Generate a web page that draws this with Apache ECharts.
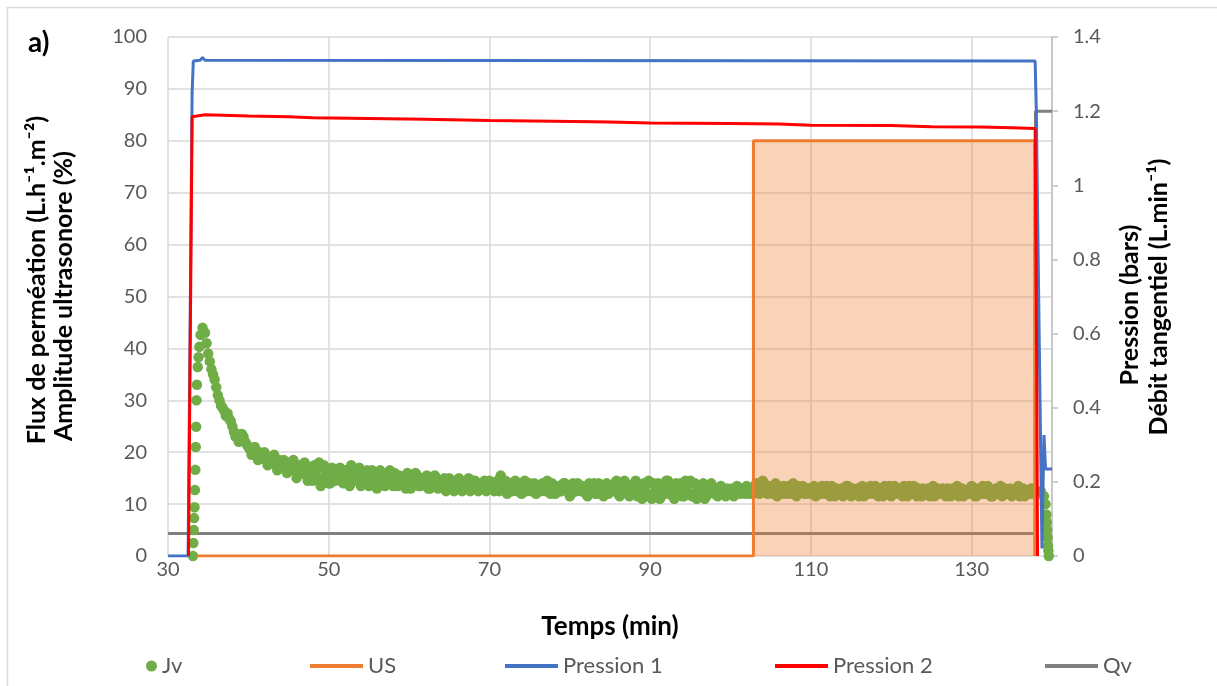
<!DOCTYPE html>
<html>
<head>
<meta charset="utf-8">
<script src="https://cdn.jsdelivr.net/npm/echarts@6/dist/echarts.min.js"></script>
<style>html,body{margin:0;padding:0;background:#fff;}#chart{width:1217px;height:686px;}</style>
</head>
<body>
<div id="chart"></div>
<script>
// ---- Data ----
// Jv (left axis, L.h-1.m-2): rise segment
const jvRiseT = [33.1, 33.15, 33.2, 33.25, 33.3, 33.35, 33.4, 33.45, 33.5, 33.55, 33.6, 33.7, 33.8, 33.9, 34.05, 34.3];
const jvRiseV = [0, 2.5, 5, 7.3, 9.4, 12.7, 16.6, 21, 24.9, 30, 33, 36.4, 38.3, 40.3, 42.6, 44];
// Jv main logging period, logger A: every 0.4 min starting at 34.6 min
const jvStartA = 34.6, jvStep = 0.4;
const jvMainA = [
  43, 39, 36, 34, 31, 29, 28, 27.5, 26, 24,
  23.5, 22.5, 23, 21.5, 20.5, 20.5, 19.5, 20, 19, 18.5,
  19, 18, 17.5, 18.5, 17, 17.5, 18, 16.5, 17.5, 16,
  17, 18, 14.5, 16, 17.5, 15, 13.5, 17.5, 15.5, 14,
  16.5, 15, 17, 14, 15.5, 13.5, 16, 15, 17, 14.5,
  15.5, 13.5, 16.5, 14, 15, 16, 13.5, 15.5, 14.5, 16,
  13.5, 15, 14, 16, 13, 14.5, 15.5, 13.5, 14, 15.5,
  13, 14.5, 15, 13.5, 14, 12.5, 15, 14, 13.5, 15,
  12.5, 14, 15, 13, 14.5, 12.5, 13.5, 14.5, 13, 14,
  12.5, 14.5, 15.5, 13, 12, 14, 13.5, 12.5, 14, 13,
  12.5, 14, 13, 12, 13.5, 14, 12.5, 13, 14, 12,
  13.5, 12.5, 14, 13, 12, 13.5, 14, 12.5, 13, 11.5,
  13.5, 14, 12, 13, 11.5, 14, 12.5, 13, 14.5, 11.5,
  13, 14, 11.5, 12.5, 14.5, 12, 11, 13.5, 14.5, 11,
  12.5, 14, 11.5, 12, 14.5, 13, 11, 12.5, 14, 11.5,
  13, 14.5, 12, 11, 13.5, 14, 11.5, 12.5, 13, 12,
  12.5, 13, 11.5, 12.5, 13, 12, 12.5, 13, 12, 12.5,
  13, 13.5, 12.5, 13, 14, 12, 13, 13.5, 11.5, 12.5,
  13.5, 12, 13, 14, 11.5, 12.5, 13.5, 12, 13, 12.5,
  11.5, 13, 13.5, 12, 12.5, 13.5, 11.5, 12.5, 13, 12,
  13.5, 11.5, 12.5, 13, 12, 11.5, 13, 13.5, 12, 12.5,
  13, 11.5, 12.5, 13.5, 12, 12.5, 13, 11.5, 12.5, 13.5,
  12, 12.5, 13, 11.5, 12.5, 13, 12, 11.5, 13, 12.5,
  12, 13, 11.5, 12.5, 13.5, 12, 11.5, 12.5, 13, 12,
  11.5, 12.5, 13.5, 12, 12.5, 11.5, 13, 12.5, 11.5, 13,
  12.5, 11.5, 12, 13.5, 12, 11.5, 12.5, 13, 12
];
// logger B: every 0.4 min starting at 34.8 min
const jvStartB = 34.8;
const jvMainB = [
  41, 37.5, 35, 32.5, 30, 28.5, 27, 26.5, 25, 23,
  22, 23.5, 22, 21, 19.5, 21, 18.5, 19.5, 20, 17.5,
  18, 19.5, 16.5, 17.5, 18.5, 16, 17, 18.5, 15, 17.5,
  16, 15.5, 17, 14.5, 16.5, 18, 15, 16, 14, 17,
  14.5, 16, 15, 16.5, 14, 17.5, 14.5, 16, 13.5, 15.5,
  16.5, 14.5, 15, 13, 16.5, 14.5, 15, 16.5, 13.5, 14.5,
  15.5, 14, 13, 15, 14.5, 16, 13.5, 15, 14, 13,
  14.5, 15.5, 13, 14, 15, 13.5, 14, 12.5, 14.5, 13.5,
  14, 13, 12.5, 14.5, 13.5, 14, 13, 12.5, 14.5, 13.5,
  13.5, 12.5, 14, 14.5, 13, 12.5, 14.5, 13.5, 12, 14.5,
  13.5, 12.5, 14, 13, 12.5, 13, 14.5, 12, 13.5, 13,
  12.5, 14, 13, 11.5, 14, 12.5, 13, 13.5, 12, 14,
  12.5, 12, 14, 13.5, 12.5, 12, 13.5, 14, 12, 13,
  14.5, 12, 13, 14, 11.5, 13, 14, 12, 11.5, 14,
  13.5, 11, 13, 14.5, 12, 11.5, 14, 13, 11.5, 14.5,
  12, 11.5, 14, 13, 12, 11, 13.5, 14, 12, 11.5,
  13.5, 12, 13, 12, 11.5, 13.5, 12, 12.5, 13.5, 12,
  12, 14, 12, 14.5, 12.5, 13.5, 12, 14, 13, 12,
  12.5, 13.5, 12, 12.5, 13.5, 13, 12, 13, 12, 13.5,
  13, 12, 12.5, 13.5, 11.5, 12.5, 13, 12.5, 11.5, 13.5,
  12, 13, 12, 11.5, 13.5, 12.5, 12, 12.5, 13.5, 11.5,
  12.5, 13.5, 12, 11.5, 13.5, 12, 12, 13.5, 11.5, 12.5,
  13.5, 11.5, 12.5, 13, 12, 11.5, 13.5, 12.5, 12, 13,
  11.5, 12.5, 13, 12, 11.5, 13, 12.5, 12, 13.5, 11.5,
  13, 12, 12, 13.5, 11.5, 12.5, 12, 13.5, 12, 12,
  13, 12, 12.5, 11.5, 13, 12.5, 12, 13
];
// Jv end segment
const jvFallT = [138.6, 139.0, 139.2, 139.3, 139.35, 139.4, 139.45, 139.5, 139.55, 139.6];
const jvFallV = [12.5, 11.5, 10, 8, 6.5, 5, 3.5, 2, 1, 0];

// US amplitude (left axis, %)
const usT = [33.7, 102.85, 102.85, 137.85, 137.85];
const usV = [0, 0, 80, 80, 0];

// Pression 1 (right axis, bars)
const p1T = [30, 32.5, 33.0, 33.15, 34.0, 34.3, 34.6, 137.9, 138.05, 138.4, 138.75, 138.9, 139.0, 139.2, 140];
const p1V = [0, 0, 1.25, 1.335, 1.337, 1.345, 1.337, 1.335, 1.2, 0.6, 0.02, 0.02, 0.326, 0.235, 0.235];

// Pression 2 (right axis, bars)
const p2T = [32.55, 33.0, 34.6, 40, 45, 48, 55, 62, 70, 78, 85, 90, 100, 106, 110, 120, 125, 131, 135, 137.9, 138.1, 138.2];
const p2V = [0, 1.185, 1.19, 1.187, 1.185, 1.182, 1.18, 1.178, 1.175, 1.173, 1.171, 1.168, 1.167, 1.165, 1.162, 1.161, 1.158, 1.157, 1.155, 1.153, 0.5, 0];

// Qv (right axis, L.min-1)
const qvT = [30, 137.95, 137.95, 140];
const qvV = [0.061, 0.061, 1.2, 1.2];

// axis ticks
const xTicks = {min: 30, max: 140, interval: 20};
const yLeftTicks = {min: 0, max: 100, interval: 10};
const yRightTicks = {min: 0, max: 1.4, interval: 0.2};

// ---- build ----
const zip = (t, v) => t.map((x, i) => [x, v[i]]);
const jvData = zip(jvRiseT, jvRiseV)
  .concat(jvMainA.map((v, i) => [+(jvStartA + i * jvStep).toFixed(2), v]))
  .concat(jvMainB.map((v, i) => [+(jvStartB + i * jvStep).toFixed(2), v]))
  .concat(zip(jvFallT, jvFallV));

const FONT = "Lato, 'DejaVu Sans', sans-serif";
const chart = echarts.init(document.getElementById('chart'), null, {renderer: 'canvas'});
const legendText = {color: '#595959', fontSize: 22, fontFamily: FONT};
const lineLegend = (name, left) => ({
  data: [name], left: left, top: 650, icon: 'rect', itemWidth: 53, itemHeight: 4,
  textStyle: legendText, selectedMode: false
});
const titleStyle = (text, size) => ({text: text, fontSize: size, fontWeight: 'bold', fontFamily: FONT, fill: '#000', align: 'center', verticalAlign: 'middle'});

chart.setOption({
  animation: false,
  backgroundColor: '#ffffff',
  grid: {left: 168, right: 165, top: 37, bottom: 130, containLabel: false},
  xAxis: {
    type: 'value', min: xTicks.min, max: xTicks.max, interval: xTicks.interval,
    axisLine: {show: false}, axisTick: {show: false},
    axisLabel: {color: '#595959', fontSize: 20, fontFamily: FONT, margin: 4, showMaxLabel: false},
    splitLine: {show: true, lineStyle: {color: '#D9D9D9', width: 1.5}}
  },
  yAxis: [
    {
      type: 'value', min: yLeftTicks.min, max: yLeftTicks.max, interval: yLeftTicks.interval,
      axisLine: {show: false}, axisTick: {show: false},
      axisLabel: {color: '#595959', fontSize: 20, fontFamily: FONT, margin: 21},
      splitLine: {show: true, lineStyle: {color: '#D9D9D9', width: 1.5}}
    },
    {
      type: 'value', position: 'right', min: yRightTicks.min, max: yRightTicks.max, interval: yRightTicks.interval,
      axisLine: {show: true, lineStyle: {color: '#BFBFBF', width: 1.5}},
      axisTick: {show: true, inside: false, length: 6, lineStyle: {color: '#BFBFBF', width: 1.5}},
      axisLabel: {color: '#595959', fontSize: 20, fontFamily: FONT, margin: 21},
      splitLine: {show: false}
    }
  ],
  legend: [
    {data: ['Jv'], left: 141, top: 650, icon: 'circle', itemWidth: 11, itemHeight: 11, textStyle: legendText, selectedMode: false},
    lineLegend('US', 305),
    lineLegend('Pression 1', 500),
    lineLegend('Pression 2', 770),
    lineLegend('Qv', 1040)
  ],
  series: [
    {
      name: 'Jv', type: 'scatter', yAxisIndex: 0, z: 2,
      symbol: 'circle', symbolSize: 10.5,
      itemStyle: {color: '#70AD47', opacity: 1},
      data: jvData
    },
    {
      name: 'Qv', type: 'line', yAxisIndex: 1, z: 2,
      symbol: 'none', showSymbol: false,
      itemStyle: {color: '#7F7F7F'},
      lineStyle: {color: '#7F7F7F', width: 3},
      data: zip(qvT, qvV)
    },
    {
      name: 'US', type: 'line', yAxisIndex: 0, z: 3,
      symbol: 'none', showSymbol: false,
      itemStyle: {color: '#ED7D31'},
      lineStyle: {color: '#ED7D31', width: 3},
      areaStyle: {color: 'rgba(237,125,49,0.35)', opacity: 1},
      data: zip(usT, usV)
    },
    {
      name: 'Pression 1', type: 'line', yAxisIndex: 1, z: 4,
      symbol: 'none', showSymbol: false,
      itemStyle: {color: '#4472C4'},
      lineStyle: {color: '#4472C4', width: 3},
      data: zip(p1T, p1V)
    },
    {
      name: 'Pression 2', type: 'line', yAxisIndex: 1, z: 5,
      symbol: 'none', showSymbol: false,
      itemStyle: {color: '#FF0000'},
      lineStyle: {color: '#FF0000', width: 3},
      data: zip(p2T, p2V)
    }
  ],
  graphic: [
    {type: 'polyline', shape: {points: [[7.5, 690], [7.5, 7.5], [1220, 7.5]]}, style: {stroke: '#D9D9D9', lineWidth: 1.5, fill: null}, silent: true},
    {type: 'text', left: 28, top: 29, style: {text: 'a)', fontSize: 28, fontWeight: 'bold', fontFamily: FONT, fill: '#000'}},
    {type: 'text', x: 610, y: 627, style: titleStyle('Temps (min)', 26)},
    {type: 'text', x: 37, y: 280, rotation: Math.PI / 2, style: titleStyle('Flux de perméation (L.h\u207B\u00B9.m\u207B\u00B2)', 25)},
    {type: 'text', x: 64, y: 296, rotation: Math.PI / 2, style: titleStyle('Amplitude ultrasonore (%)', 25)},
    {type: 'text', x: 1130, y: 305, rotation: Math.PI / 2, style: titleStyle('Pression (bars)', 25)},
    {type: 'text', x: 1159, y: 297, rotation: Math.PI / 2, style: titleStyle('Débit tangentiel (L.min\u207B\u00B9)', 25)}
  ]
});
</script>
</body>
</html>
